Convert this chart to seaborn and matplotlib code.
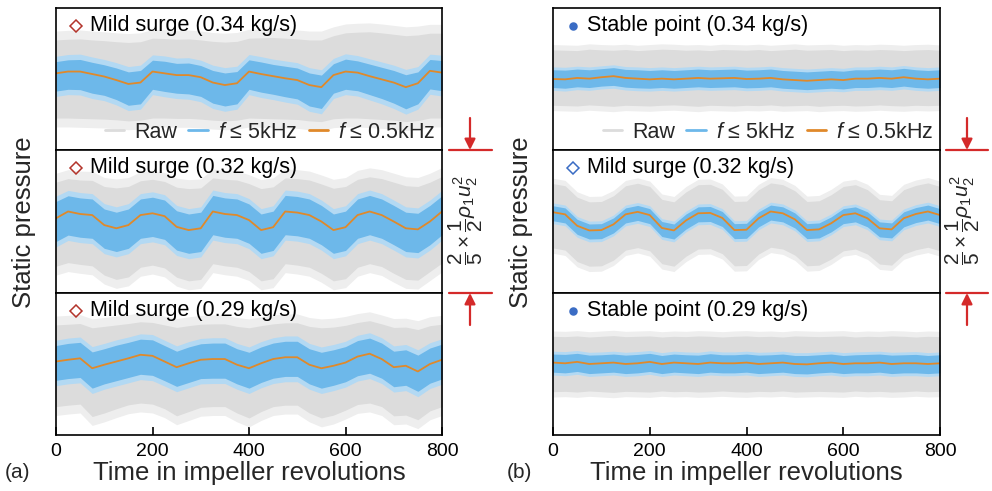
import matplotlib
matplotlib.use("Agg")
import matplotlib.pyplot as plt
import seaborn as sns
from matplotlib.lines import Line2D

# ------------- data: static pressure in % of 1/2 rho1 u2^2, relative to each row's centre -------------
REV = list(range(0, 801, 25))   # time in impeller revolutions

# (a) top: mild surge 0.34 kg/s
a1_lp = [1.6, 2.1, 2.1, 1.4, 0.7, -0.3, -1.4, -1.0, 2.1, 1.6, 1.1, 1.1, 0.5, -1.0, -1.7, -1.2, 2.1,
         1.4, 0.8, 0.2, -0.3, -1.7, -2.3, 1.1, 2.1, 1.8, 0.8, -0.1, -1.0, -2.3, -1.2, 2.3, 1.8]
a1_bp_hi = [4.9, 5.4, 5.5, 4.7, 4.0, 3.1, 2.0, 2.4, 5.3, 5.0, 4.4, 4.5, 3.8, 2.4, 1.7, 2.1, 5.4,
            4.8, 4.1, 3.6, 3.1, 1.7, 1.1, 4.3, 5.6, 5.1, 4.2, 3.3, 2.4, 1.2, 2.0, 5.5, 5.2]
a1_bp_lo = [-3.4, -2.9, -3.0, -4.0, -4.6, -5.8, -7.4, -7.0, -2.9, -3.5, -4.0, -4.2, -4.9, -6.8, -7.6, -7.0, -2.9,
            -3.7, -4.3, -5.0, -5.6, -7.6, -8.3, -4.0, -2.9, -3.3, -4.4, -5.5, -6.8, -8.4, -7.0, -2.8, -3.3]
a1_raw_hi = [11.0, 11.2, 11.3, 11.0, 10.8, 10.5, 10.3, 10.5, 11.5, 11.4, 11.2, 11.3, 11.0, 10.6, 10.4, 10.6, 11.5,
             11.6, 11.7, 11.5, 11.3, 11.0, 11.0, 12.2, 13.0, 13.2, 13.3, 13.0, 12.6, 12.2, 12.4, 12.9, 12.9]
a1_raw_lo = [-11.0, -11.0, -11.1, -11.2, -11.3, -11.5, -11.8, -11.6, -11.0, -11.0, -11.1, -11.1, -11.3, -11.6, -11.8, -11.6, -11.0,
             -11.1, -11.2, -11.3, -11.4, -11.8, -12.0, -11.2, -11.0, -11.0, -11.2, -11.4, -11.6, -12.0, -11.7, -11.0, -11.0]

# (a) middle: mild surge 0.32 kg/s
a2_lp = [0.9, 2.8, 2.1, 1.8, -1.0, -1.9, -1.0, 1.8, 2.3, 1.5, -1.5, -2.4, -1.9, 2.8, 2.1, 1.8, 0.4,
         -2.4, -1.6, 2.8, 2.5, 1.8, 0.0, -2.4, -1.6, 1.8, 2.8, 1.8, 0.0, -1.9, -2.2, 0.0, 2.8]
a2_bp_hi = [5.6, 7.2, 6.6, 6.3, 3.5, 2.6, 3.5, 6.3, 6.8, 6.0, 3.0, 2.1, 2.6, 7.3, 6.6, 6.3, 4.9,
            2.1, 2.9, 7.3, 7.0, 6.3, 4.5, 2.1, 2.9, 6.3, 7.3, 6.3, 4.5, 2.6, 2.3, 4.5, 7.2]
a2_bp_lo = [-5.6, -3.8, -4.4, -4.7, -7.5, -8.4, -7.5, -4.7, -4.2, -5.0, -8.0, -8.9, -8.4, -3.7, -4.4, -4.7, -6.1,
            -8.9, -8.1, -3.7, -4.0, -4.7, -6.5, -8.9, -8.1, -4.7, -3.7, -4.7, -6.5, -8.4, -8.7, -6.5, -3.7]
a2_raw_hi = [11.0, 12.0, 11.6, 11.5, 9.8, 9.4, 9.8, 11.4, 11.8, 11.2, 9.6, 9.2, 9.4, 12.2, 11.8, 11.6, 10.6,
             9.2, 9.7, 12.2, 12.0, 11.6, 10.5, 9.3, 9.8, 11.8, 12.5, 12.0, 11.0, 10.0, 9.8, 11.0, 12.6]
a2_raw_lo = [-12.5, -11.5, -12.0, -12.4, -15.0, -16.2, -15.5, -12.8, -12.2, -13.0, -15.6, -16.6, -16.2, -11.8, -12.4, -12.8, -14.0,
             -16.6, -16.0, -11.8, -12.2, -12.8, -14.5, -16.6, -16.0, -12.8, -11.8, -12.6, -14.5, -16.2, -16.4, -14.0, -11.6]

# (a) bottom: mild surge 0.29 kg/s
a3_lp = [0.7, 1.2, 1.6, -1.2, -0.2, 0.7, 1.6, 2.6, 2.3, 0.7, -0.9, 0.2, 1.2, 1.4, 1.4, -0.2, -1.2,
         0.2, 1.4, 1.9, 1.9, -0.2, -1.2, -0.5, 0.4, 2.1, 2.9, 1.4, -0.9, -0.5, -2.1, 0.0, 1.2]
a3_bp_hi = [5.2, 5.8, 6.1, 3.4, 4.3, 5.3, 6.1, 7.0, 6.8, 5.2, 3.6, 4.8, 5.7, 5.9, 5.9, 4.3, 3.3,
            4.8, 5.9, 6.4, 6.4, 4.3, 3.3, 4.0, 4.9, 6.6, 7.3, 5.9, 3.6, 4.0, 2.5, 4.5, 5.6]
a3_bp_lo = [-4.6, -4.1, -3.8, -6.8, -5.6, -4.7, -3.8, -2.9, -3.2, -4.7, -6.3, -5.2, -4.1, -4.0, -4.0, -5.6, -6.8,
            -5.2, -4.0, -3.5, -3.5, -5.6, -6.8, -6.0, -5.0, -3.3, -2.6, -4.0, -6.4, -6.0, -7.7, -5.4, -4.2]
a3_raw_hi = [11.0, 11.2, 11.4, 10.2, 10.6, 11.0, 11.4, 11.9, 11.7, 11.0, 10.3, 10.8, 11.2, 11.3, 11.3, 10.6, 10.2,
             10.8, 11.3, 11.6, 11.6, 10.6, 10.2, 10.4, 10.9, 11.7, 12.2, 11.3, 10.3, 10.4, 9.7, 10.8, 11.2]
a3_raw_lo = [-12.0, -11.6, -11.3, -14.8, -13.8, -12.6, -11.5, -11.0, -11.3, -12.6, -14.6, -13.4, -12.2, -12.0, -12.0, -13.8, -15.2,
             -13.4, -12.0, -11.6, -11.6, -13.8, -15.2, -14.4, -13.0, -11.4, -11.0, -12.0, -14.6, -14.4, -15.7, -13.2, -12.0]

# (b) top: stable point 0.34 kg/s
b1_lp = [0.0, -0.1, 0.3, 0.1, 0.5, 0.8, 0.3, 0.1, -0.1, 0.1, -0.1, 0.1, 0.3, 0.1, 0.2, 0.3, 0.0,
         0.1, 0.3, -0.1, -0.3, -0.5, -0.3, -0.1, -0.3, 0.1, 0.1, 0.3, 0.1, 0.5, 0.1, -0.1, 0.1]
b1_bp_hi = [2.6, 2.5, 2.8, 2.6, 2.9, 3.2, 2.7, 2.6, 2.4, 2.6, 2.4, 2.6, 2.8, 2.6, 2.7, 2.8, 2.5,
            2.6, 2.8, 2.4, 2.2, 2.0, 2.2, 2.4, 2.2, 2.6, 2.6, 2.8, 2.6, 3.0, 2.6, 2.4, 2.6]
b1_bp_lo = [-2.4, -2.6, -2.2, -2.4, -2.0, -1.8, -2.3, -2.5, -2.6, -2.4, -2.6, -2.4, -2.2, -2.4, -2.3, -2.2, -2.5,
            -2.4, -2.2, -2.6, -2.8, -3.0, -2.8, -2.6, -2.8, -2.4, -2.4, -2.2, -2.4, -2.0, -2.4, -2.6, -2.4]
b1_raw_hi = [8.2, 8.1, 8.0, 8.4, 8.2, 8.1, 8.3, 8.0, 8.2, 8.4, 8.3, 8.1, 8.2, 8.0, 8.3, 8.2, 8.1,
             8.3, 8.0, 8.2, 8.4, 8.1, 8.2, 8.3, 8.0, 8.2, 8.1, 8.3, 8.2, 8.0, 8.2, 8.3, 8.1]
b1_raw_lo = [-7.4, -7.5, -7.6, -7.3, -7.5, -7.7, -7.4, -7.5, -7.6, -7.4, -7.3, -7.5, -7.7, -7.4, -7.5, -7.6, -7.4,
             -7.5, -7.3, -7.6, -7.5, -7.4, -7.7, -7.5, -7.4, -7.6, -7.5, -7.3, -7.5, -7.6, -7.4, -7.5, -7.4]

# (b) middle: mild surge 0.32 kg/s
b2_lp = [2.6, 2.0, -1.2, -2.5, -2.4, -0.8, 2.0, 2.7, 1.8, -1.8, -2.5, 0.3, 2.3, 2.4, 1.0, -2.4, -2.3,
         0.9, 2.8, 2.3, 0.6, -2.4, -2.2, -0.5, 1.8, 2.3, 0.9, -1.9, -2.2, 0.9, 2.1, 2.8, 1.8]
b2_bp_hi = [4.4, 3.8, 0.6, -0.7, -0.6, 1.0, 3.8, 4.5, 3.6, 0.0, -0.7, 2.1, 4.1, 4.2, 2.8, -0.6, -0.5,
            2.7, 4.6, 4.1, 2.4, -0.6, -0.4, 1.3, 3.6, 4.1, 2.7, -0.1, -0.4, 2.7, 3.9, 4.6, 3.6]
b2_bp_lo = [0.2, -0.4, -3.6, -4.9, -4.8, -3.2, -0.4, 0.3, -0.6, -4.2, -4.9, -2.1, -0.1, 0.0, -1.4, -4.8, -4.7,
            -1.5, 0.4, -0.1, -1.8, -4.8, -4.6, -2.9, -0.6, -0.1, -1.5, -4.3, -4.6, -1.5, -0.3, 0.4, -0.6]
b2_raw_hi = [10.6, 10.0, 6.8, 5.5, 5.6, 7.2, 10.0, 10.7, 9.8, 6.2, 5.5, 8.3, 10.3, 10.4, 9.0, 5.6, 5.7,
             8.9, 10.8, 10.3, 8.6, 5.6, 5.8, 7.5, 9.8, 10.3, 8.9, 6.1, 5.8, 8.9, 10.1, 10.8, 9.8]
b2_raw_lo = [-7.4, -8.0, -11.2, -12.5, -12.4, -10.8, -8.0, -7.3, -8.2, -11.8, -12.5, -9.7, -7.7, -7.6, -9.0, -12.4, -12.3,
             -9.1, -7.2, -7.7, -9.4, -12.4, -12.2, -10.5, -8.2, -7.7, -9.1, -11.9, -12.2, -9.1, -7.9, -7.2, -8.2]

# (b) bottom: stable point 0.29 kg/s
b3_lp = [0.4, 0.2, 0.6, 0.0, 0.2, 0.4, 0.0, 0.2, 0.6, 0.0, 0.4, 0.2, 0.0, 0.4, 0.2, 0.2, 0.4,
         0.0, 0.2, 0.4, 0.0, -0.1, 0.2, 0.4, 0.0, 0.2, 0.2, 0.4, 0.0, 0.2, 0.2, 0.0, 0.2]
b3_bp_hi = [2.8, 2.7, 3.0, 2.5, 2.6, 2.8, 2.5, 2.7, 3.0, 2.4, 2.8, 2.6, 2.5, 2.9, 2.6, 2.6, 2.8,
            2.5, 2.6, 2.8, 2.4, 2.4, 2.6, 2.8, 2.4, 2.6, 2.7, 2.8, 2.5, 2.6, 2.7, 2.4, 2.6]
b3_bp_lo = [-2.3, -2.5, -2.1, -2.7, -2.5, -2.3, -2.7, -2.5, -2.1, -2.7, -2.3, -2.5, -2.7, -2.3, -2.5, -2.5, -2.3,
            -2.7, -2.5, -2.3, -2.7, -2.8, -2.5, -2.3, -2.7, -2.5, -2.5, -2.3, -2.7, -2.5, -2.5, -2.7, -2.5]
b3_raw_hi = [7.8, 7.7, 7.9, 7.6, 7.8, 8.0, 7.7, 7.8, 7.9, 7.6, 7.8, 7.7, 7.9, 7.8, 7.6, 7.8, 7.9,
             7.7, 7.8, 7.6, 7.9, 7.8, 7.7, 7.8, 7.9, 7.6, 7.8, 7.7, 7.9, 7.8, 7.6, 7.8, 7.7]
b3_raw_lo = [-7.8, -7.7, -7.9, -7.6, -7.8, -8.0, -7.7, -7.8, -7.9, -7.6, -7.8, -7.7, -7.9, -7.8, -7.6, -7.8, -7.9,
             -7.7, -7.8, -7.6, -7.9, -7.8, -7.7, -7.8, -7.9, -7.6, -7.8, -7.7, -7.9, -7.8, -7.6, -7.8, -7.7]

# how far isolated spikes reach beyond the dense part of each band (same units)
raw_spike = [2.5, 1.5]   # panel (a), panel (b)
bp_spike = [1.5, 0.8]

titles_a = ["Mild surge (0.34 kg/s)", "Mild surge (0.32 kg/s)", "Mild surge (0.29 kg/s)"]
titles_b = ["Stable point (0.34 kg/s)", "Mild surge (0.32 kg/s)", "Stable point (0.29 kg/s)"]
legend_labels = ["Raw", "$f$ ≤ 5kHz", "$f$ ≤ 0.5kHz"]
x_ticks = [0, 200, 400, 600, 800]
ROW_SPAN = 40.0   # one row = 2/5 of 1/2 rho1 u2^2 = 40 %

# ---------------- style ----------------
sns.set_theme(style="white")
plt.rcParams['font.family'] = ['Liberation Sans', 'DejaVu Sans']
plt.rcParams['mathtext.fontset'] = 'custom'
plt.rcParams['mathtext.rm'] = 'Liberation Sans'
plt.rcParams['mathtext.it'] = 'Liberation Sans:italic'
plt.rcParams['mathtext.bf'] = 'Liberation Sans:bold'
plt.rcParams['axes.edgecolor'] = 'black'
plt.rcParams['axes.linewidth'] = 1.2

C_RAW = '#dcdcdc'
C_RAW_HALO = '#eeeeee'
C_BP = '#6db8ea'
C_BP_HALO = '#b3d9f3'
C_LP = '#e0892a'
C_RED = '#d42a2a'
C_MARK_A = '#b3342b'
C_MARK_B = '#3a6cc4'

fig = plt.figure(figsize=(9.92, 4.91), dpi=100)
W, H = 992.0, 491.0
def fx(px): return px / W
def fy(py): return 1.0 - py / H

row_edges = [8, 150, 293, 435]
panel_x = [(56, 442), (553, 940)]

data_a = [(a1_lp, a1_bp_hi, a1_bp_lo, a1_raw_hi, a1_raw_lo),
          (a2_lp, a2_bp_hi, a2_bp_lo, a2_raw_hi, a2_raw_lo),
          (a3_lp, a3_bp_hi, a3_bp_lo, a3_raw_hi, a3_raw_lo)]
data_b = [(b1_lp, b1_bp_hi, b1_bp_lo, b1_raw_hi, b1_raw_lo),
          (b2_lp, b2_bp_hi, b2_bp_lo, b2_raw_hi, b2_raw_lo),
          (b3_lp, b3_bp_hi, b3_bp_lo, b3_raw_hi, b3_raw_lo)]
marks_a = [('D', C_MARK_A, False)] * 3
marks_b = [('o', C_MARK_B, True), ('D', C_MARK_B, False), ('o', C_MARK_B, True)]

panels = [(panel_x[0], data_a, titles_a, marks_a), (panel_x[1], data_b, titles_b, marks_b)]

for p, ((x0, x1), pdata, ptitles, pmarks) in enumerate(panels):
    for i in range(3):
        top, bot = row_edges[i], row_edges[i + 1]
        ax = fig.add_axes([fx(x0), fy(bot), fx(x1) - fx(x0), (bot - top) / H])
        lp, bhi, blo, rhi, rlo = pdata[i]
        rs, bs = raw_spike[p], bp_spike[p]
        ax.fill_between(REV, [v - rs for v in rlo], [v + rs for v in rhi], color=C_RAW_HALO, lw=0)
        ax.fill_between(REV, rlo, rhi, color=C_RAW, lw=0)
        ax.fill_between(REV, [v - bs for v in blo], [v + bs for v in bhi], color=C_BP_HALO, lw=0)
        ax.fill_between(REV, blo, bhi, color=C_BP, lw=0)
        sns.lineplot(x=REV, y=lp, ax=ax, color=C_LP, lw=1.3)
        ax.set_xlim(0, 800)
        ax.set_ylim(-ROW_SPAN / 2, ROW_SPAN / 2)
        ax.set_yticks([])
        ax.set_ylabel('')
        for s in ax.spines.values():
            s.set_color('black'); s.set_linewidth(1.2)
        if i == 2:
            ax.set_xticks(x_ticks)
            ax.tick_params(axis='x', direction='in', length=6, width=1.2, labelsize=14, pad=6,
                           bottom=True, colors='black')
        else:
            ax.set_xticks([])
        mk, mc, filled = pmarks[i]
        ax.plot([0.052], [0.875], marker=mk, ms=6 if mk == 'D' else 5,
                mfc=mc if filled else 'none', mec=mc, mew=1.1, transform=ax.transAxes,
                linestyle='none')
        ax.text(0.088, 0.875, ptitles[i], transform=ax.transAxes, va='center', ha='left',
                fontsize=15.5, color='black')
        if i == 0:
            handles = [Line2D([], [], color=C_RAW, lw=2), Line2D([], [], color=C_BP, lw=2),
                       Line2D([], [], color=C_LP, lw=2)]
            ax.legend(handles, legend_labels, loc='center right', bbox_to_anchor=(1.0, 0.125),
                      ncol=3, frameon=False, fontsize=15.5, handlelength=0.9,
                      handletextpad=0.45, columnspacing=0.55, borderaxespad=0.2, borderpad=0.1)

    xc = (x0 + x1) / 2
    fig.text(fx(xc), fy(473), "Time in impeller revolutions", ha='center', va='center',
             fontsize=18.5)
    fig.text(fx(x0 - 32), fy(222), "Static pressure", rotation=90, ha='center', va='center',
             fontsize=18.5)

fig.text(fx(17), fy(473), "(a)", ha='center', va='center', fontsize=15)
fig.text(fx(519), fy(473), "(b)", ha='center', va='center', fontsize=15)

# scale bars: one row height = 2/5 x 1/2 rho1 u2^2
for (lx0, lx1, ax_x, tx) in [(449, 492, 470, 466), (946, 988, 967, 963)]:
    for yl in (150, 293):
        fig.add_artist(Line2D([fx(lx0), fx(lx1)], [fy(yl), fy(yl)], color=C_RED, lw=1.6,
                              transform=fig.transFigure))
    for y_tip, y_tail in ((150, 118), (293, 325)):
        fig.axes[0].annotate('', xy=(fx(ax_x), fy(y_tip)), xytext=(fx(ax_x), fy(y_tail)),
                             xycoords='figure fraction', textcoords='figure fraction',
                             arrowprops=dict(arrowstyle='-|>', color=C_RED, lw=1.6,
                                             mutation_scale=16, shrinkA=0, shrinkB=0),
                             annotation_clip=False)
    fig.text(fx(tx), fy(220), r"$\dfrac{2}{5}\times\dfrac{1}{2}\rho_1 u_2^2$", rotation=90,
             ha='center', va='center', fontsize=15)

fig.savefig("out.png", dpi=100)
